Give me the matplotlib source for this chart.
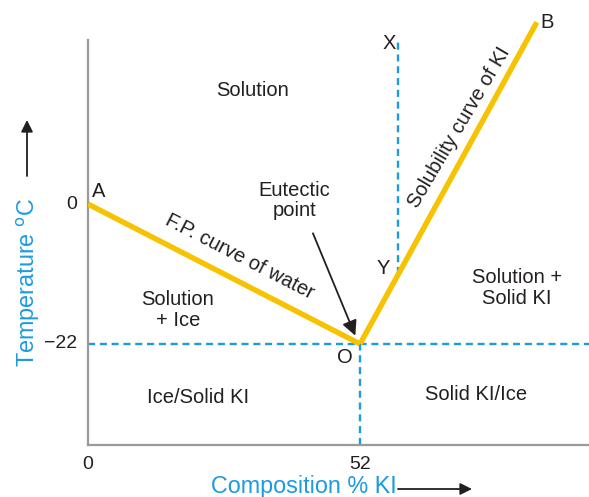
import matplotlib
matplotlib.use("Agg")
import matplotlib.pyplot as plt
import numpy as np

plt.rcParams['font.family'] = ['Liberation Sans', 'DejaVu Sans']

# Data
fp_comp = [0, 52]          # F.P. curve of water (A -> O)
fp_temp = [0, -22]
sol_comp = [52, 85.8]      # Solubility curve of KI (O -> B)
sol_temp = [-22, 28.6]
eutectic_comp = 52
eutectic_temp = -22
x_line_comp = 59.3         # X-Y vertical line
x_ticks = [0, 52]
x_ticklabels = ['0', '52']
y_ticks = [0, -22]
y_ticklabels = ['0', '\u221222']

YELLOW = '#F7C200'
BLUE = '#1B9BE0'
GRAY = '#9A9A9A'
TXT = '#231F20'

W, H = 589, 497
fig = plt.figure(figsize=(W / 100, H / 100), dpi=100)
ax = fig.add_axes([88 / W, (H - 445) / H, 1 - 88 / W, 445 / H])
xmin, xmax = 0, (589 - 88) / 5.231
ymin, ymax = -37.9, 32.1
ax.set_xlim(xmin, xmax)
ax.set_ylim(ymin, ymax)

for s in ['top', 'right']:
    ax.spines[s].set_visible(False)
for s in ['left', 'bottom']:
    ax.spines[s].set_color(GRAY)
    ax.spines[s].set_linewidth(1.6)
ax.spines['left'].set_bounds(ymin, 25.8)

ax.set_xticks(x_ticks)
ax.set_xticklabels(x_ticklabels)
ax.set_yticks(y_ticks)
ax.set_yticklabels(y_ticklabels)
ax.tick_params(axis='both', length=0, labelsize=14, colors=TXT)
ax.tick_params(axis='x', pad=8)
ax.tick_params(axis='y', pad=8)
for lab in ax.get_yticklabels():
    lab.set_verticalalignment('center')

# dashed guide lines
dash = dict(color=BLUE, lw=1.7, ls=(0, (3, 2)), zorder=2)
ax.plot([xmin, xmax], [eutectic_temp, eutectic_temp], **dash)
ax.plot([eutectic_comp, eutectic_comp], [ymin, eutectic_temp], **dash)
t_at_x = np.interp(x_line_comp, sol_comp, sol_temp)
ax.plot([x_line_comp, x_line_comp], [t_at_x, 25.5], **dash)

# curves
ax.plot(fp_comp, fp_temp, color=YELLOW, lw=3.9, solid_capstyle='butt', zorder=3)
ax.plot(sol_comp, sol_temp, color=YELLOW, lw=3.9, solid_capstyle='butt', zorder=3)

fs = 14.5
tk = dict(color=TXT, fontsize=fs, ha='center', va='center')
ax.text(31.5, 17.9, 'Solution', **tk)
ax.text(2.1, 1.9, 'A', **tk)
ax.text(87.8, 28.6, 'B', **tk)
ax.text(57.5, 25.2, 'X', **tk)
ax.text(56.4, -10.2, 'Y', **tk)
ax.text(49.1, -24.2, 'O', **tk)
ax.text(39.5, 0.6, 'Eutectic\npoint', linespacing=1.1, **tk)
ax.text(28.9, -8.3, 'F.P. curve of water', rotation=-27.2, rotation_mode='anchor', **tk)
ax.text(17.2, -16.7, 'Solution\n+ Ice', linespacing=1.1, **tk)
ax.text(21.0, -30.5, 'Ice/Solid KI', **tk)
ax.text(82.0, -13.2, 'Solution +\nSolid KI', linespacing=1.1, **tk)
ax.text(74.2, -30.0, 'Solid KI/Ice', **tk)
ax.text(70.9, 12.1, 'Solubility curve of KI', rotation=59.5, rotation_mode='anchor', **tk)

ax.annotate('', xy=(eutectic_comp - 0.9, eutectic_temp + 1.3), xytext=(43.0, -4.6),
            arrowprops=dict(arrowstyle='-|>,head_length=0.9,head_width=0.45',
                            color=TXT, lw=1.3, shrinkA=0, shrinkB=0))

# axis labels with arrows (figure coords)
def fx(x):
    return x / W

def fy(y):
    return 1 - y / H

fig.text(fx(304), fy(487), 'Composition % KI', color=BLUE, fontsize=16.8,
         ha='center', va='center')
fig.add_artist(matplotlib.patches.FancyArrowPatch(
    (fx(398), fy(489)), (fx(472), fy(489)), transform=fig.transFigure,
    arrowstyle='-|>,head_length=7,head_width=3.5', color=TXT, lw=1.3,
    shrinkA=0, shrinkB=0))

fig.text(fx(28), fy(282), 'Temperature $^{\\mathrm{o}}$C', color=BLUE, fontsize=16.8,
         ha='center', va='center', rotation=90)
fig.add_artist(matplotlib.patches.FancyArrowPatch(
    (fx(27), fy(176)), (fx(27), fy(120)), transform=fig.transFigure,
    arrowstyle='-|>,head_length=7,head_width=3.5', color=TXT, lw=1.3,
    shrinkA=0, shrinkB=0))

fig.savefig('out.png', dpi=100)
